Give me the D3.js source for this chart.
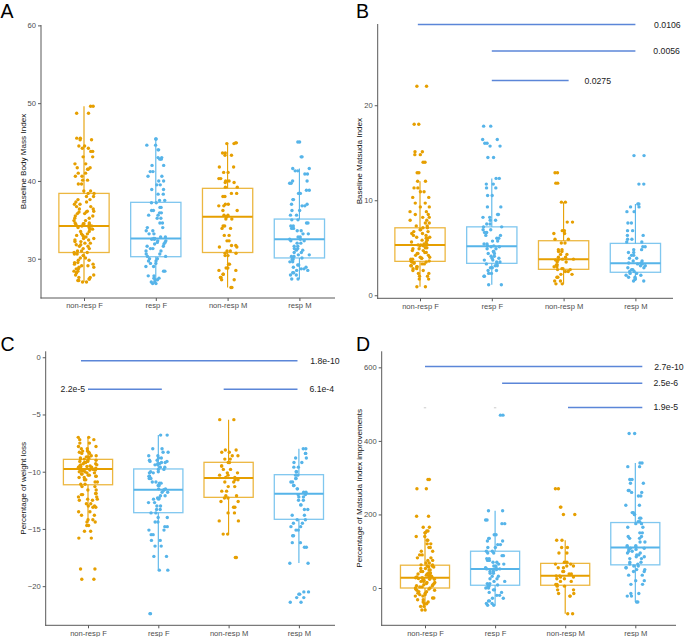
<!DOCTYPE html>
<html><head><meta charset="utf-8">
<script src="https://cdn.jsdelivr.net/npm/d3@7"></script>
<style>body{margin:0;background:#fff}svg{display:block;font-family:"Liberation Sans",Arial,sans-serif}</style>
</head><body><svg id="c" width="685" height="637"></svg>
<script>
const categories = ["non-resp F","resp F","non-resp M","resp M"];
const groupColors = ["#E69F00","#56B4E9","#E69F00","#56B4E9"];

// Panel A: Baseline Body Mass Index
const bmiNrF = [27.0,27.2,27.4,27.6,27.9,28.2,28.4,28.7,28.9,29.1,29.3,29.5,29.8,30.1,30.4,30.6,30.8,31.0,31.3,31.6,31.8,32.0,32.2,32.4,32.6,32.8,33.0,33.2,33.5,33.8,34.0,34.2,34.4,34.5,34.6,34.9,35.2,35.5,35.8,36.0,36.1,36.4,36.7,37.0,37.3,37.6,38.0,38.4,38.7,39.6,40.1,40.6,41.0,41.5,41.7,42.2,43.1,43.8,44.2,44.5,45.3,45.5,48.7,49.6];
const bmiRF = [26.8,27.0,27.3,27.5,27.8,28.4,29.0,29.4,29.7,30.0,30.3,30.6,31.0,31.3,31.6,31.9,32.1,32.3,32.5,32.6,32.8,33.2,33.6,34.0,34.6,35.2,35.6,35.9,36.2,36.6,37.2,37.5,38.3,38.9,39.5,40.0,40.6,41.2,42.0,42.8,43.0,44.0,44.6,45.4];
const bmiNrM = [26.3,27.3,27.6,28.0,28.5,28.8,29.3,30.4,30.7,31.0,31.5,31.7,32.3,33.0,33.9,34.2,35.1,35.4,35.6,36.2,36.8,37.0,38.0,38.4,39.2,39.8,40.0,40.3,41.1,41.8,43.3,43.6,44.8,44.9];
const bmiRM = [27.4,27.9,28.2,28.5,28.7,28.9,29.2,29.6,29.9,30.1,30.3,30.5,30.8,31.1,31.3,31.6,32.0,32.3,32.5,32.8,33.2,33.6,33.9,34.2,34.6,35.0,35.6,36.2,36.8,37.0,37.6,38.4,38.8,39.7,40.0,40.9,41.3,41.6,43.1,45.0];
// box stats: [lower whisker, Q1, median, Q3, upper whisker]
const bmiBox = [[27.0,30.8,34.2,38.4,49.6],[26.8,30.26,32.6,37.25,45.4],[26.3,30.8,35.4,39.05,44.9],[27.4,30.1,32.5,35.1,41.6]];

// Panel B: Baseline Matsuda Index
const matNrF = [0.9,1.7,2.0,2.3,2.6,2.8,3.0,3.1,3.3,3.4,3.5,3.6,3.8,3.9,4.0,4.2,4.4,4.5,4.7,4.9,5.0,5.2,5.3,5.4,5.6,5.8,6.0,6.1,6.3,6.5,6.7,6.9,7.1,7.3,7.6,7.9,8.2,8.5,8.8,9.3,9.7,10.3,10.9,11.3,12.0,12.9,14.0,14.8,15.1,18.0,22.0];
const matRF = [1.1,2.0,2.3,2.6,2.9,3.1,3.3,3.5,3.7,3.9,4.1,4.4,4.6,4.9,5.1,5.2,5.4,5.7,6.0,6.3,6.6,6.9,7.2,7.5,7.9,8.2,8.5,9.3,10.5,11.3,11.7,12.3,14.5,15.7,16.0,16.4,17.8];
const matNrM = [1.2,1.5,1.9,2.2,2.5,2.7,2.8,3.0,3.2,3.5,3.7,3.8,4.0,4.3,4.6,4.8,5.5,5.9,6.5,6.8,7.7,9.8,11.8,12.9];
const matRM = [1.5,1.7,1.9,2.1,2.3,2.5,2.7,2.9,3.1,3.3,3.4,3.6,3.9,4.2,4.5,4.8,5.1,5.6,5.9,6.3,6.8,7.6,8.8,9.3,9.6,11.7,14.7];
const matBox = [[0.9,3.57,5.3,7.1,12.0],[1.1,3.36,5.15,7.2,12.3],[1.2,2.73,3.78,5.74,9.8],[1.5,2.42,3.36,5.46,9.6]];

// Panel C: Percentage of weight loss
const wlNrF = [-7.0,-7.2,-7.5,-7.8,-8.0,-8.2,-8.3,-8.4,-8.6,-8.7,-8.8,-8.9,-9.0,-9.1,-9.2,-9.3,-9.4,-9.5,-9.55,-9.6,-9.7,-9.8,-9.85,-9.9,-10.0,-10.1,-10.2,-10.3,-10.4,-10.5,-10.7,-10.9,-11.1,-11.3,-11.6,-11.9,-12.0,-12.2,-12.4,-12.5,-12.8,-13.0,-13.1,-13.5,-13.8,-14.2,-14.4,-14.7,-15.2,-15.8,-18.5,-19.4];
const wlRF = [-6.8,-8.0,-8.3,-8.6,-8.8,-9.0,-9.1,-9.2,-9.3,-9.4,-9.6,-9.8,-10.0,-10.1,-10.4,-10.6,-10.9,-11.0,-11.2,-11.5,-11.6,-11.8,-12.1,-12.3,-12.4,-12.7,-13.0,-13.3,-13.6,-14.0,-14.4,-14.8,-15.1,-15.5,-16.0,-16.5,-17.4,-18.6,-22.4];
const wlNrM = [-5.45,-8.1,-8.3,-8.6,-8.9,-9.2,-9.5,-9.8,-10.1,-10.3,-10.5,-10.7,-10.9,-11.3,-11.7,-12.1,-12.3,-12.6,-13.1,-13.6,-14.3,-15.45,-17.5];
const wlRM = [-8.0,-8.4,-8.8,-9.2,-9.6,-10.0,-10.3,-10.6,-10.9,-11.2,-11.5,-11.8,-12.0,-12.2,-12.5,-12.9,-13.3,-13.8,-14.2,-14.5,-14.8,-15.1,-15.6,-16.2,-16.6,-18.0,-20.5,-20.7,-21.0,-21.4];
const wlBox = [[-14.4,-11.14,-9.76,-8.92,-7.0],[-18.6,-13.58,-11.57,-9.76,-6.8],[-15.45,-12.24,-10.55,-9.18,-5.45],[-17.98,-14.16,-11.92,-10.26,-8.0]];

// Panel D: Percentage of Matsuda Index improvements
const miNrF = [-60,-50,-43,-38,-32,-27,-22,-18,-14,-10,-6,-3,0,3,6,9,12,15,18,21,24,26,28,30,32,35,38,41,45,49,53,57,60,63,68,75,82,90,100,110,120,130,140,150,155,165,195,270,295];
const miRF = [-47,-42,-35,-28,-20,-12,-5,0,5,8,12,18,25,32,40,45,50,52,55,60,65,70,75,80,88,95,100,110,118,128,135,145,175,185,210,470];
const miNrM = [-70,-22,-15,-5,5,10,18,25,30,33,38,45,55,60,65,70,95,110,130,200,220,270];
const miRM = [-38,-22,-15,10,20,35,45,50,55,60,65,70,80,85,90,95,100,105,108,112,115,125,135,140,150,165,175,180,190,200,205,225,250,260,265,285,295,330,340,420];
const miBox = [[-60,0,28,62,155],[-47,7.5,52,100,210],[-70,7.5,33,67,130],[-38,63,110,178,340]];
const miFaint = [[0,490],[1,490]];

// significance annotations: [from category index, to category index, y value, label, label position (category units), anchor]
const sigB = [[0.97,4.0,28.5,"0.0106",4.26,"start"],[2.0,4.0,25.7,"0.0056",4.25,"start"],[2.0,3.07,22.6,"0.0275",3.29,"start"]];
const sigC = [[0.9,3.98,-0.3,"1.8e-10",4.16,"start"],[1.0,2.05,-2.8,"2.2e-5",0.96,"end"],[2.93,3.98,-2.8,"6.1e-4",4.15,"start"]];
const sigD = [[1.0,4.1,602,"2.7e-10",4.27,"start"],[2.1,4.1,557,"2.5e-6",4.26,"start"],[3.04,4.1,491,"1.9e-5",4.26,"start"]];

const ticksA = [30,40,50,60], ticksB = [0,10,20], ticksC = [-20,-15,-10,-5,0], ticksD = [0,200,400,600];

const panels = [
  {letter:"A", title:"Baseline Body Mass Index", groups:[bmiNrF,bmiRF,bmiNrM,bmiRM], box:bmiBox, ticks:ticksA, dom:[24.95,60.05], sig:[],
   L:41, R:335, T:25, B:298, c1:84, dx:71.8, lx:0.5, ly:17.6, tx:22.7},
  {letter:"B", title:"Baseline Matsuda Index", groups:[matNrF,matRF,matNrM,matRM], box:matBox, ticks:ticksB, dom:[-0.32,28.55], sig:sigB,
   L:377.7, R:673, T:24, B:298.3, c1:420, dx:71.8, lx:356, ly:17.6, tx:359},
  {letter:"C", title:"Percentage of weight loss", groups:[wlNrF,wlRF,wlNrM,wlRM], box:wlBox, ticks:ticksC, dom:[-23.42,0.52], sig:sigC,
   L:45.7, R:335, T:351.3, B:625.3, c1:88, dx:70.3, lx:0.5, ly:350.8, tx:23.3},
  {letter:"D", title:"Percentage of Matsuda Index improvements", groups:[miNrF,miRF,miNrM,miRM], box:miBox, ticks:ticksD, dom:[-101.4,643.6], sig:sigD, faint:miFaint,
   L:381.7, R:676, T:351.3, B:625.3, c1:425, dx:70.1, lx:356, ly:350.8, tx:359}
];

function hash(i,k){const s=Math.sin(i*12.9898+k*78.233)*43758.5453;return s-Math.floor(s);}

const svg = d3.select("#c");
panels.forEach((p,pi)=>{
  const g = svg.append("g");
  const x = d3.scaleLinear().domain([1,4]).range([p.c1, p.c1+3*p.dx]);
  const y = d3.scaleLinear().domain(p.dom).range([p.B, p.T]);
  const bw = 0.7*p.dx;
  // boxes
  p.box.forEach((b,i)=>{
    const cx = x(i+1), col = groupColors[i];
    const bg = g.append("g").attr("stroke",col).attr("fill","none");
    bg.append("line").attr("x1",cx).attr("x2",cx).attr("y1",y(b[3])).attr("y2",y(b[4])).attr("stroke-width",1.1);
    bg.append("line").attr("x1",cx).attr("x2",cx).attr("y1",y(b[1])).attr("y2",y(b[0])).attr("stroke-width",1.1);
    bg.append("rect").attr("x",cx-bw/2).attr("width",bw).attr("y",y(b[3])).attr("height",y(b[1])-y(b[3])).attr("stroke-width",1.3).attr("stroke-opacity",0.75);
    bg.append("line").attr("x1",cx-bw/2).attr("x2",cx+bw/2).attr("y1",y(b[2])).attr("y2",y(b[2])).attr("stroke-width",2);
  });
  if(p.faint) p.faint.forEach(f=>{
    g.append("line").attr("x1",x(f[0]+1)-1.2).attr("x2",x(f[0]+1)+1.2).attr("y1",y(f[1])).attr("y2",y(f[1])).attr("stroke","#bbb").attr("stroke-width",0.8);
  });
  // points (each observation drawn twice, jittered)
  p.groups.forEach((vals,i)=>{
    const pts=[];
    vals.forEach((v,j)=>{ for(let k=0;k<2;k++) pts.push({v, j:(i+1)*(pi+3), n:j*2+k}); });
    g.append("g").selectAll("circle").data(pts).join("circle")
      .attr("cx",d=>x(i+1)+(hash(d.n+d.j*7.1,d.j)*2-1)*0.14*p.dx)
      .attr("cy",d=>y(d.v)).attr("r",1.7).attr("fill",groupColors[i]);
  });
  // significance
  p.sig.forEach(s=>{
    g.append("line").attr("x1",x(s[0])).attr("x2",x(s[1])).attr("y1",y(s[2])).attr("y2",y(s[2]))
      .attr("stroke","#5B86D8").attr("stroke-width",1.5);
    g.append("text").attr("x",x(s[4])).attr("y",y(s[2])).attr("dy","0.35em").attr("text-anchor",s[5])
      .attr("font-size",8.7).attr("fill","#222").text(s[3]);
  });
  // axes
  const ax = g.append("g").attr("stroke","#595959").attr("stroke-width",1);
  ax.append("line").attr("x1",p.L).attr("x2",p.L).attr("y1",p.T).attr("y2",p.B+0.5);
  ax.append("line").attr("x1",p.L-0.5).attr("x2",p.R).attr("y1",p.B).attr("y2",p.B);
  const ya = g.append("g").attr("transform",`translate(${p.L},0)`)
    .call(d3.axisLeft(y).tickValues(p.ticks).tickSize(3).tickPadding(2));
  ya.select(".domain").remove();
  const xa = g.append("g").attr("transform",`translate(0,${p.B})`)
    .call(d3.axisBottom(x).tickValues([1,2,3,4]).tickFormat((d)=>categories[d-1]).tickSize(3).tickPadding(2));
  xa.select(".domain").remove();
  [ya,xa].forEach(a=>{a.selectAll(".tick line").attr("stroke","#595959");
    a.selectAll("text").attr("font-size",7.6).attr("fill","#4D4D4D").attr("font-family","Liberation Sans, Arial, sans-serif");});
  // titles
  g.append("text").attr("transform",`translate(${p.tx},${(p.T+p.B)/2}) rotate(-90)`).attr("text-anchor","middle")
    .attr("dy","0.35em").attr("font-size",8.1).attr("fill","#111").text(p.title);
  g.append("text").attr("x",p.lx).attr("y",p.ly).attr("font-size",19.5).attr("fill","#000").text(p.letter);
});
</script></body></html>
